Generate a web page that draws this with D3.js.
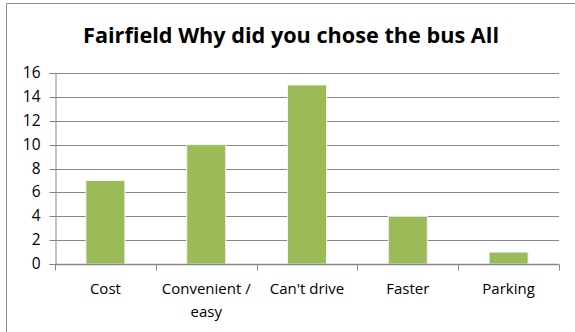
<!DOCTYPE html>
<html><head><meta charset="utf-8">
<script src="https://cdn.jsdelivr.net/npm/d3@7"></script>
<style>body{margin:0;background:#fff;} svg{display:block;}</style>
</head><body>
<svg id="c" width="575" height="332"></svg>
<script>
const title = "Fairfield Why did you chose the bus All";
const categories = ["Cost", "Convenient / easy", "Can't drive", "Faster", "Parking"];
const labelLines = [["Cost"], ["Convenient /", "easy"], ["Can't drive"], ["Faster"], ["Parking"]];
const values = [7, 10, 15, 4, 1];
const yTicks = [0, 2, 4, 6, 8, 10, 12, 14, 16];

const svg = d3.select("#c");
const W = 575, H = 332;
const m = {left: 55, right: 16, top: 73, bottom: 68};
const x = d3.scaleBand().domain(categories).range([m.left, W - m.right]).paddingInner(0.613).paddingOuter(0.3065);
const xb = d3.scaleBand().domain(categories).range([m.left, W - m.right]);
const y = d3.scaleLinear().domain([0, 16]).range([H - m.bottom, m.top]);

// frame (left and top only visible)
svg.append("path").attr("d", `M6.5,${H} V3.5 H${W}`).attr("fill", "none").attr("stroke", "#8c8c8c").attr("stroke-width", 1);

// title
svg.append("text").attr("x", 291).attr("y", 43).attr("text-anchor", "middle")
  .attr("font-family", "Open Sans").attr("font-weight", "bold").attr("font-size", 21.5)
  .attr("textLength", 416).attr("lengthAdjust", "spacingAndGlyphs").attr("fill", "#000").text(title);

// gridlines
svg.append("g").selectAll("line").data(yTicks.filter(d => d > 0)).join("line")
  .attr("x1", m.left).attr("x2", W - m.right)
  .attr("y1", d => Math.round(y(d)) + 0.5).attr("y2", d => Math.round(y(d)) + 0.5)
  .attr("stroke", "#868686").attr("stroke-width", 1);

// y axis
const ya = svg.append("g").attr("transform", `translate(${m.left + 0.5},0)`)
  .call(d3.axisLeft(y).tickValues(yTicks).tickSize(6).tickPadding(9));
ya.select(".domain").attr("stroke", "#868686");
ya.selectAll(".tick line").attr("stroke", "#868686");
ya.selectAll(".tick text").attr("font-family", "Open Sans").attr("font-size", 15.5).attr("fill", "#000");
ya.selectAll(".tick").attr("transform", d => `translate(0,${Math.round(y(d)) + 0.5})`);

// bars
svg.append("g").selectAll("rect").data(values).join("rect")
  .attr("x", (d, i) => x(categories[i]))
  .attr("width", x.bandwidth())
  .attr("y", d => y(d))
  .attr("height", d => y(0) - y(d))
  .attr("fill", "#9BBB59")
  .attr("stroke", "#f4f4f4").attr("stroke-width", 1);

// x axis
const y0 = Math.round(y(0)) + 0.5;
svg.append("line").attr("x1", m.left).attr("x2", W - m.right).attr("y1", y0).attr("y2", y0)
  .attr("stroke", "#868686").attr("stroke-width", 1.5);
const bounds = categories.map(c => xb(c)).concat([W - m.right]);
svg.append("g").selectAll("line").data(bounds).join("line")
  .attr("x1", d => Math.round(d) + 0.5).attr("x2", d => Math.round(d) + 0.5)
  .attr("y1", y0).attr("y2", y0 + 6).attr("stroke", "#868686");

// x labels
const xl = svg.append("g").selectAll("text").data(labelLines).join("text")
  .attr("text-anchor", "middle").attr("font-family", "Open Sans").attr("font-size", 15).attr("fill", "#000")
  .attr("x", (d, i) => xb(categories[i]) + xb.bandwidth() / 2);
xl.each(function(lines, i) {
  const t = d3.select(this);
  lines.forEach((ln, j) => {
    t.append("tspan").attr("x", xb(categories[i]) + xb.bandwidth() / 2).attr("y", 294 + j * 23).text(ln);
  });
});
</script>
</body></html>
